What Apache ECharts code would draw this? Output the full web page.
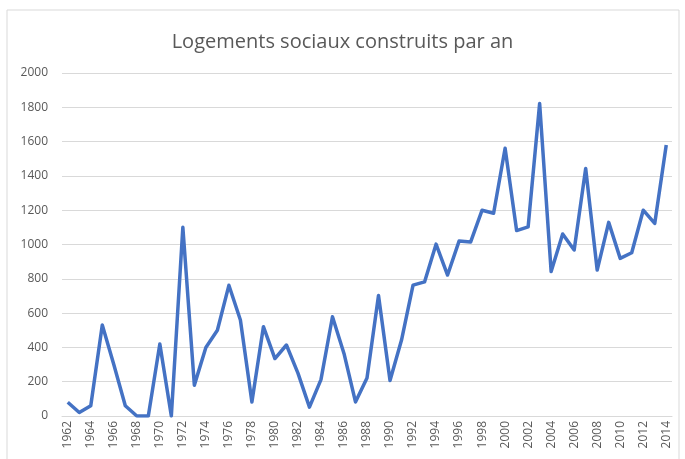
<!DOCTYPE html>
<html>
<head>
<meta charset="utf-8">
<script src="https://cdn.jsdelivr.net/npm/echarts@6/dist/echarts.min.js"></script>
<style>
  html, body { margin: 0; padding: 0; background: #fff; }
  #main { width: 685px; height: 459px; }
</style>
</head>
<body>
<div id="main"></div>
<script>
// données
var years = [];
for (var y = 1962; y <= 2014; y++) years.push(String(y));

var logements = [
  80, 20, 60, 530, 300, 60, 0, 0, 420, 0,          // 1962-1971
  1100, 180, 400, 500, 762, 560, 82, 521, 335, 414, // 1972-1981
  250, 52, 212, 579, 365, 82, 221, 703, 207, 443,   // 1982-1991
  763, 782, 1002, 822, 1020, 1014, 1200, 1182, 1561, 1081, // 1992-2001
  1103, 1822, 842, 1061, 968, 1443, 851, 1129, 919, 952,  // 2002-2011
  1200, 1123, 1580                                   // 2012-2014
];

var yTicks = [0, 200, 400, 600, 800, 1000, 1200, 1400, 1600, 1800, 2000];

var chart = echarts.init(document.getElementById('main'), null, { renderer: 'canvas' });

var option = {
  backgroundColor: '#fff',
  animation: false,
  title: {
    text: 'Logements sociaux construits par an',
    left: 'center',
    top: 27,
    textStyle: {
      fontFamily: 'Open Sans',
      fontSize: 20,
      fontWeight: 'normal',
      color: '#595959'
    }
  },
  graphic: [{
    type: 'rect',
    shape: { x: 7, y: 10, width: 672, height: 460 },
    style: { fill: 'none', stroke: '#d9d9d9', lineWidth: 1 }
  }],
  grid: {
    left: 62,
    right: 13,
    top: 73,
    bottom: 43
  },
  xAxis: {
    type: 'category',
    boundaryGap: true,
    data: years,
    axisLine: { lineStyle: { color: '#d9d9d9' } },
    axisTick: { show: false },
    axisLabel: {
      interval: 1,
      rotate: 90,
      fontFamily: 'Open Sans',
      fontSize: 12,
      color: '#595959',
      margin: 5
    }
  },
  yAxis: {
    type: 'value',
    min: yTicks[0],
    max: yTicks[yTicks.length - 1],
    interval: 200,
    axisLine: { show: false },
    axisTick: { show: false },
    axisLabel: {
      formatter: function (v) { return String(v); },
      fontFamily: 'Open Sans',
      fontSize: 12,
      color: '#595959',
      margin: 14
    },
    splitLine: { lineStyle: { color: '#d9d9d9', width: 1 } }
  },
  series: [{
    name: 'Logements',
    type: 'line',
    data: logements,
    symbol: 'none',
    lineStyle: { color: '#4472C4', width: 3.5, join: 'round' }
  }]
};

chart.setOption(option);
</script>
</body>
</html>
